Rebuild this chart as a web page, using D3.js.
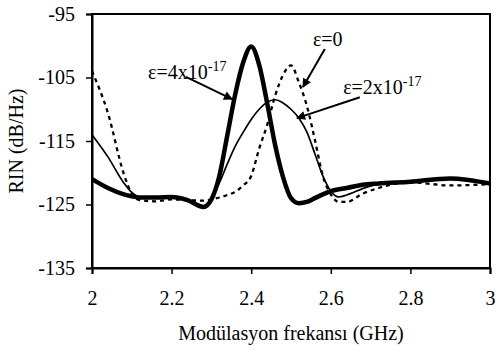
<!DOCTYPE html>
<html>
<head>
<meta charset="utf-8">
<script src="https://cdn.jsdelivr.net/npm/d3@7"></script>
</head>
<body style="margin:0">
<script>
// modulation frequency (GHz)
var freq = [2.00, 2.04, 2.08, 2.10, 2.12, 2.16, 2.20, 2.24, 2.28, 2.30, 2.32, 2.34, 2.36, 2.38,
            2.40, 2.42, 2.44, 2.46, 2.48, 2.50, 2.52, 2.54, 2.56, 2.58, 2.60, 2.62, 2.64,
            2.68, 2.72, 2.80, 2.90, 3.00];

// RIN (dB/Hz) for each epsilon
var rinEps0 = [-104.0, -110.6, -120.2, -123.3, -124.3, -124.5, -124.2, -124.3, -124.4, -124.2, -123.9, -123.5, -123.0, -122.0,
               -120.5, -116.2, -112.5, -107.9, -104.6, -103.1, -105.8, -109.5, -114.8, -120.5, -123.4, -124.6, -124.6,
               -123.3, -122.4, -121.5, -122.0, -121.8];
var rinEps2 = [-114.0, -117.5, -121.6, -123.1, -123.8, -123.9, -123.8, -124.3, -125.2, -124.0, -121.6, -118.6, -115.8, -113.6,
               -111.6, -110.0, -108.9, -108.5, -109.0, -110.0, -111.4, -113.6, -117.0, -120.5, -122.9, -123.8, -123.5,
               -122.5, -121.8, -121.4, -120.9, -121.7];
var rinEps4 = [-121.0, -122.4, -123.4, -123.7, -123.9, -123.9, -123.8, -124.3, -125.4, -124.2, -120.5, -114.1, -107.6, -102.6,
               -100.1, -103.0, -109.0, -115.6, -120.7, -124.0, -124.8, -124.6, -124.0, -123.4, -122.9, -122.6, -122.4,
               -121.9, -121.7, -121.4, -120.9, -121.7];

var xTicks = [2, 2.2, 2.4, 2.6, 2.8, 3];
var xTickLabels = ["2", "2.2", "2.4", "2.6", "2.8", "3"];
var yTicks = [-95, -105, -115, -125, -135];
var yTickLabels = ["-95", "-105", "-115", "-125", "-135"];

// labels: text position and arrow (from -> to), in data units
var labelText = ["\u03b5=4x10", "\u03b5=0", "\u03b5=2x10"];
var labelSup = ["-17", "", "-17"];
var labelAt = [[2.141, -105.3], [2.555, -100.1], [2.631, -107.6]];
var arrowFrom = [[2.236, -104.9], [2.585, -100.5], [2.673, -108.1]];
var arrowTo = [[2.352, -108.4], [2.530, -106.5], [2.515, -111.4]];

var FONT = "'Liberation Serif'";
var width = 497, height = 350;
var plot = { left: 92, right: 490, top: 14, bottom: 268 };

var svg = d3.select('body').append('svg')
  .attr('width', width)
  .attr('height', height);

var x = d3.scaleLinear().domain([2, 3]).range([plot.left, plot.right]);
var y = d3.scaleLinear().domain([-135, -95]).range([plot.bottom, plot.top]);

// frame
svg.append('rect')
  .attr('x', plot.left)
  .attr('y', plot.top)
  .attr('width', plot.right - plot.left)
  .attr('height', plot.bottom - plot.top)
  .attr('fill', 'none')
  .attr('stroke', '#000')
  .attr('stroke-width', 2);

// axes
var xAxis = svg.append('g')
  .attr('transform', 'translate(0,' + plot.bottom + ')')
  .call(d3.axisBottom(x).tickValues(xTicks)
    .tickFormat(function(d, i) { return xTickLabels[i]; })
    .tickSize(6).tickPadding(17));
var yAxis = svg.append('g')
  .attr('transform', 'translate(' + plot.left + ',0)')
  .call(d3.axisLeft(y).tickValues(yTicks)
    .tickFormat(function(d, i) { return yTickLabels[i]; })
    .tickSize(6).tickPadding(11));

[xAxis, yAxis].forEach(function(ax) {
  ax.attr('font-family', null).attr('font-size', null);
  ax.select('.domain').attr('stroke-width', 2);
  ax.selectAll('.tick line').attr('stroke-width', 1.5);
  ax.selectAll('.tick text')
    .style('font-family', FONT)
    .style('font-size', '20px')
    .attr('fill', '#000');
});

// axis titles
svg.append('text')
  .attr('x', (plot.left + plot.right) / 2)
  .attr('y', 340)
  .attr('text-anchor', 'middle')
  .style('font-family', FONT)
  .style('font-size', '20px')
  .text('Modülasyon frekansı (GHz)');

svg.append('text')
  .attr('transform', 'translate(23,' + ((plot.top + plot.bottom) / 2) + ') rotate(-90)')
  .attr('text-anchor', 'middle')
  .style('font-family', FONT)
  .style('font-size', '20px')
  .text('RIN (dB/Hz)');

// curves
var line = d3.line()
  .x(function(d) { return x(d[0]); })
  .y(function(d) { return y(d[1]); })
  .curve(d3.curveMonotoneX);

var series = [
  { values: rinEps0, width: 2.3, dash: '4,4' },
  { values: rinEps2, width: 1.7, dash: null },
  { values: rinEps4, width: 4.5, dash: null }
];

svg.selectAll('.series')
  .data(series)
  .enter()
  .append('path')
  .attr('class', 'series')
  .attr('d', function(s) { return line(d3.zip(freq, s.values)); })
  .attr('fill', 'none')
  .attr('stroke', '#000')
  .attr('stroke-width', function(s) { return s.width; })
  .attr('stroke-dasharray', function(s) { return s.dash; })
  .attr('stroke-linejoin', 'round');

// arrowhead
svg.append('defs').append('marker')
  .attr('id', 'head')
  .attr('viewBox', '0 0 10 10')
  .attr('refX', 9)
  .attr('refY', 5)
  .attr('markerWidth', 5.5)
  .attr('markerHeight', 4.5)
  .attr('markerUnits', 'strokeWidth')
  .attr('orient', 'auto')
  .append('path')
  .attr('d', 'M0,0L10,5L0,10Z')
  .attr('fill', '#000');

svg.selectAll('.arrow')
  .data(d3.range(labelText.length))
  .enter()
  .append('line')
  .attr('class', 'arrow')
  .attr('x1', function(i) { return x(arrowFrom[i][0]); })
  .attr('y1', function(i) { return y(arrowFrom[i][1]); })
  .attr('x2', function(i) { return x(arrowTo[i][0]); })
  .attr('y2', function(i) { return y(arrowTo[i][1]); })
  .attr('stroke', '#000')
  .attr('stroke-width', 2)
  .attr('marker-end', 'url(#head)');

var labels = svg.selectAll('.label')
  .data(d3.range(labelText.length))
  .enter()
  .append('text')
  .attr('class', 'label')
  .attr('x', function(i) { return x(labelAt[i][0]); })
  .attr('y', function(i) { return y(labelAt[i][1]); })
  .style('font-family', FONT)
  .style('font-size', '20px');

labels.append('tspan').text(function(i) { return labelText[i]; });
labels.append('tspan')
  .attr('dy', -8)
  .style('font-size', '14px')
  .text(function(i) { return labelSup[i]; });
</script>
</body>
</html>
